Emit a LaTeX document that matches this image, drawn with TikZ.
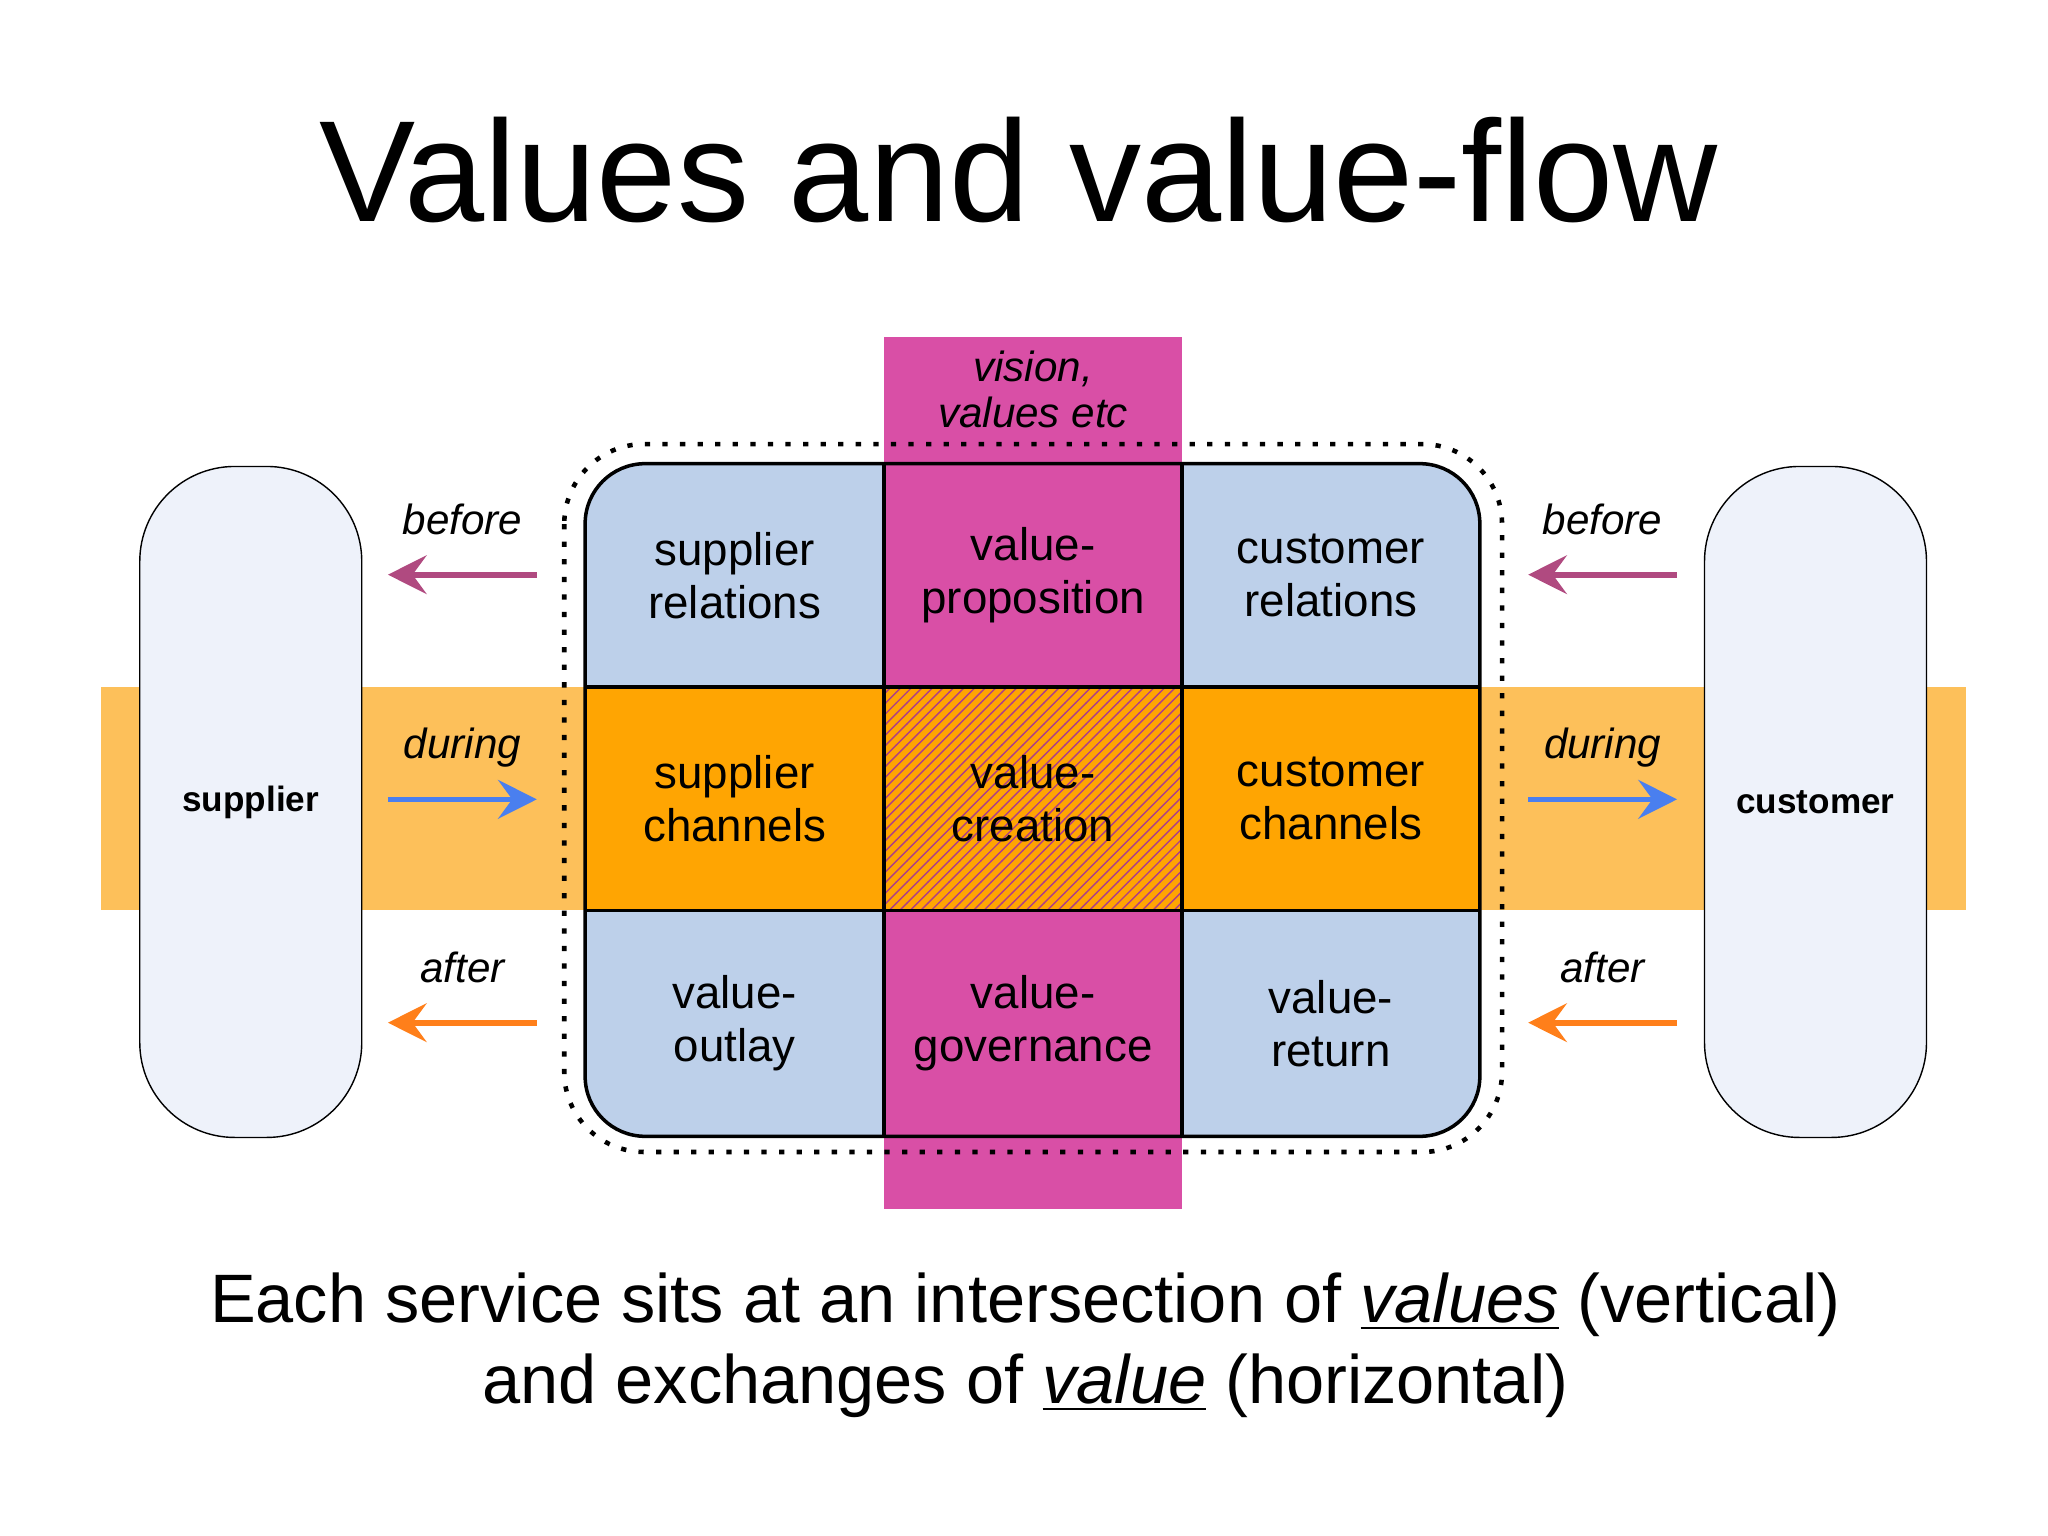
\documentclass[tikz,border=0pt]{standalone}
\usepackage{fontspec}
\setmainfont{Liberation Sans}
\usetikzlibrary{arrows.meta,patterns}
\definecolor{bandorange}{HTML}{FDC05A}
\definecolor{cellorange}{HTML}{FFA502}
\definecolor{vmagenta}{HTML}{D94FA6}
\definecolor{cellblue}{HTML}{BDD0EA}
\definecolor{sidebox}{HTML}{EEF2FA}
\definecolor{arrowplum}{HTML}{B04A80}
\definecolor{arrowblue}{HTML}{4A7FEF}
\definecolor{arroworange}{HTML}{FF7F1A}
\tikzset{
  cell/.style={minimum width=2.984cm, minimum height=2.24cm, inner sep=0pt,
    align=center, font=\fontsize{13}{15}\selectfont},
  side/.style={draw=black, fill=sidebox, rounded corners=0.95cm, minimum width=2.22cm,
    minimum height=6.71cm, font=\fontsize{10}{12}\selectfont\bfseries},
  phase/.style={font=\fontsize{12}{14}\selectfont\itshape},
  flow/.style={line width=1.6pt, -{Stealth[length=11pt,width=11pt,inset=4pt]}}
}
\begin{document}
\begin{tikzpicture}[x=0.01306cm,y=-0.01306cm]
\useasboundingbox (0,0) rectangle (1568,1176);

\node[font=\fontsize{41}{48}\selectfont] (title) at (780,130) {Values and value-flow};

% bands
\fill[bandorange] (77,526) rectangle (1505,697);
\fill[vmagenta] (677,258) rectangle (905,926);
\node[cell, align=center, font=\fontsize{12}{13}\selectfont\itshape] (vision) at (791,298) {vision,\\values etc};

% dotted boundary
\draw[line width=1.3pt, dash pattern=on 1.5pt off 3.5pt, rounded corners=0.8cm] (432,340) rectangle (1150,882);

% grid cells
\begin{scope}
\clip[rounded corners=0.6cm] (448,355) rectangle (1133,870);
\node[cell, fill=cellblue] (sr) at (562.5,440.5) {supplier\\relations};
\node[cell, fill=vmagenta] (vp) at (791,440.5) {value-\\proposition};
\node[cell, fill=cellblue] (cr) at (1019,440.5) {customer\\relations};
\node[cell, fill=cellorange] (sc) at (562.5,611.5) {supplier\\channels};
\node[cell, fill=cellorange, postaction={pattern=north east lines, pattern color=vmagenta!80!black}] (vc) at (791,611.5) {};
\node[cell] (vct) at (791,611.5) {value-\\creation};
\node[cell, fill=cellorange] (cc) at (1019,611.5) {customer\\channels};
\node[cell, fill=cellblue] (vo) at (562.5,783.5) {value-\\outlay};
\node[cell, fill=vmagenta] (vg) at (791,783.5) {value-\\governance};
\node[cell, fill=cellblue] (vr) at (1019,783.5) {value-\\return};
\end{scope}
\draw[line width=1pt] (677,355) -- (677,870) (905,355) -- (905,870)
  (448,526) -- (1133,526) (448,697) -- (1133,697);
\draw[line width=1pt, rounded corners=0.6cm] (448,355) rectangle (1133,870);

% supplier and customer
\node[side] (sup) at (192,614) {supplier};
\node[side] (cus) at (1390,614) {customer};

% phases
\foreach \x/\n in {354/l, 1227/r} {
  \node[phase] (before\n) at (\x,398) {before};
  \node[phase] (during\n) at (\x,572) {during};
  \node[phase] (after\n) at (\x,741) {after};
  \coordinate (bw\n) at (\x-57,440);
  \coordinate (be\n) at (\x+57,440);
  \coordinate (dw\n) at (\x-57,612);
  \coordinate (de\n) at (\x+57,612);
  \coordinate (aw\n) at (\x-57,783);
  \coordinate (ae\n) at (\x+57,783);
  \draw[flow, {Stealth[length=11pt,width=11pt,inset=4pt]}-, arrowplum] (bw\n) -- (be\n);
  \draw[flow, arrowblue] (dw\n) -- (de\n);
  \draw[flow, arroworange] (ae\n) -- (aw\n);
}

% caption
\node[align=center, font=\fontsize{19.5}{23}\selectfont] (caption) at (785,1030)
  {Each service sits at an intersection of \underline{\textit{values}} (vertical)\\
   and exchanges of \underline{\textit{value}} (horizontal)};
\end{tikzpicture}
\end{document}
